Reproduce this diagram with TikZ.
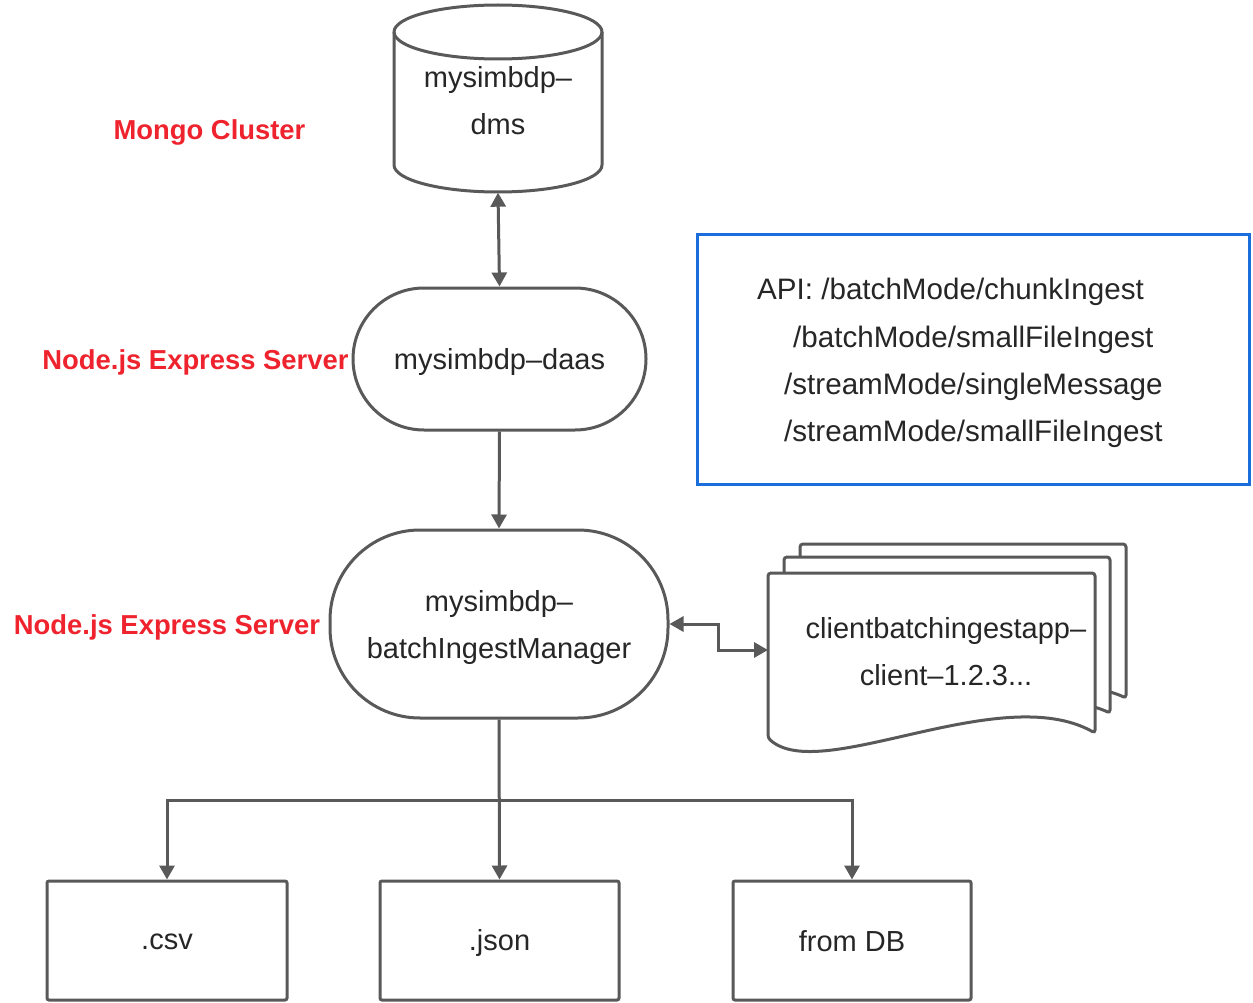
\documentclass[tikz,border=0pt]{standalone}
\usepackage{fontspec}
\setmainfont{Liberation Sans}
\usetikzlibrary{arrows.meta}
\definecolor{lc}{RGB}{89,89,89}
\definecolor{tc}{RGB}{38,38,38}
\definecolor{rc}{RGB}{238,35,45}
\definecolor{bc}{RGB}{25,110,220}
\tikzset{
  line/.style={draw=lc, line width=3pt},
  arr/.style={line, -{Triangle[length=14pt,width=15pt]}},
  darr/.style={line, {Triangle[length=14pt,width=15pt]}-{Triangle[length=14pt,width=15pt]}},
  txt/.style={text=tc, font=\fontsize{29}{47}\selectfont, align=center, inner sep=0pt},
  redlbl/.style={text=rc, font=\fontsize{27.4}{32}\selectfont\bfseries, inner sep=0pt},
  apitxt/.style={text=tc, font=\fontsize{29.6}{34}\selectfont, inner sep=0pt, anchor=west, text height=20pt, text depth=6pt},
  stadium/.style={line, fill=white},
  boxn/.style={line, fill=white, rounded corners=2pt},
  docshape/.style={line, fill=white, rounded corners=3pt},
}
\begin{document}
\begin{tikzpicture}[x=1pt,y=-1pt]
\useasboundingbox (0,0) rectangle (1253,1003);
% cylinder
\draw[line, fill=white] (394,32) -- (394,165) arc[start angle=180, end angle=0, x radius=104, y radius=27] -- (602,32) arc[start angle=0, end angle=-180, x radius=104, y radius=27] -- cycle;
\draw[line] (394,32) arc[start angle=180, end angle=0, x radius=104, y radius=27];
\node[minimum width=208pt, minimum height=188pt, inner sep=0pt] (dms) at (498,98.5) {};
\node[txt] (dmst) at (498,101) {mysimbdp–\\dms};
% stadiums
\node[stadium, minimum width=293pt, minimum height=142pt, rounded corners=71pt] (daas) at (499.5,359) {};
\node[txt] (daast) at (499.5,362) {mysimbdp–daas};
\node[stadium, minimum width=338pt, minimum height=188pt, rounded corners=90pt] (bim) at (499,624) {};
\node[txt] (bimt) at (499,627) {mysimbdp–\\batchIngestManager};
% labels
\node[redlbl] (lmongo) at (209.5,132.5) {Mongo Cluster};
\node[redlbl] (lnode1) at (195.5,362.5) {Node.js Express Server};
\node[redlbl] (lnode2) at (167,627.5) {Node.js Express Server};
% API box
\node[draw=bc, line width=3pt, minimum width=552pt, minimum height=249pt, inner sep=0pt] (api) at (973,359.5) {};
\node[apitxt] (a1) at (757,292) {API: /batchMode/chunkIngest};
\node[apitxt] (a2) at (793,340) {/batchMode/smallFileIngest};
\node[apitxt] (a3) at (784,387) {/streamMode/singleMessage};
\node[apitxt] (a4) at (784,434) {/streamMode/smallFileIngest};
% document stack
\draw[docshape] (800,544) -- (1126,544) -- (1126,698) .. controls (1031,655) and (852,770) .. (800,703) -- cycle;
\draw[docshape] (784,557) -- (1110,557) -- (1110,713) .. controls (1015,670) and (836,785) .. (784,718) -- cycle;
\draw[docshape] (768,573) -- (1095,573) -- (1095,733) .. controls (1000,680) and (820,785) .. (768,738) -- cycle;
\node[txt] (docs) at (946,652) {clientbatchingestapp–\\client–1.2.3...};
\coordinate (docL) at (768,650);
% bottom boxes
\node[boxn, minimum width=240pt, minimum height=119pt] (csv) at (167,940.5) {};
\node[txt] at (167,942) {.csv};
\node[boxn, minimum width=239pt, minimum height=119pt] (json) at (499.5,940.5) {};
\node[txt] at (499.5,943) {.json};
\node[boxn, minimum width=238pt, minimum height=119pt] (fromdb) at (852,940.5) {};
\node[txt] at (852,941) {from DB};
% connectors
\draw[darr] (dms.south) -- (daas.north);
\draw[arr] (daas.south) -- (bim.north);
\draw[darr] (bim.east) -- ++(49,0) |- (docL);
\coordinate (split) at (499,800);
\draw[arr] (bim.south) -- (json.north);
\draw[arr] (split) -| (csv.north);
\draw[arr] (split) -| (fromdb.north);
\end{tikzpicture}
\end{document}
